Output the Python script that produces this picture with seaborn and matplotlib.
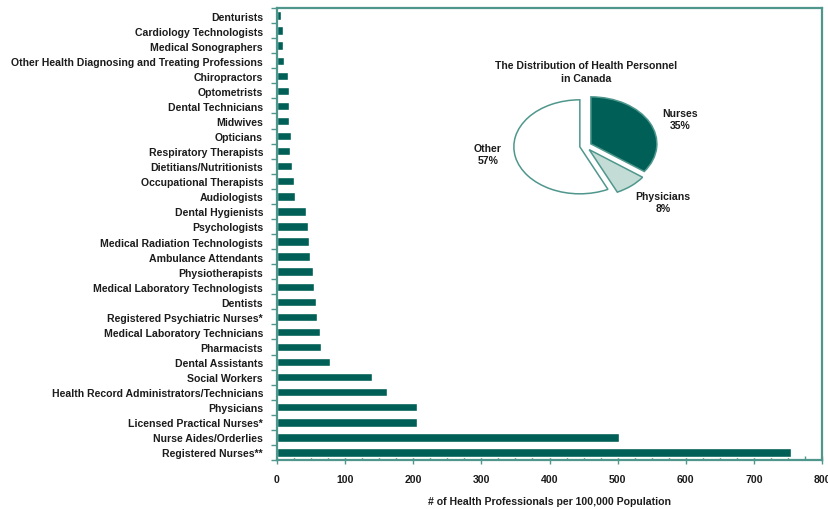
import matplotlib
matplotlib.use("Agg")
import matplotlib.pyplot as plt
import numpy as np
import pandas as pd
import seaborn as sns
from matplotlib.ticker import MultipleLocator, FixedLocator

# Health professionals per 100,000 population, top to bottom
professions = [
    "Denturists",
    "Cardiology Technologists",
    "Medical Sonographers",
    "Other Health Diagnosing and Treating Professions",
    "Chiropractors",
    "Optometrists",
    "Dental Technicians",
    "Midwives",
    "Opticians",
    "Respiratory Therapists",
    "Dietitians/Nutritionists",
    "Occupational Therapists",
    "Audiologists",
    "Dental Hygienists",
    "Psychologists",
    "Medical Radiation Technologists",
    "Ambulance Attendants",
    "Physiotherapists",
    "Medical Laboratory Technologists",
    "Dentists",
    "Registered Psychiatric Nurses*",
    "Medical Laboratory Technicians",
    "Pharmacists",
    "Dental Assistants",
    "Social Workers",
    "Health Record Administrators/Technicians",
    "Physicians",
    "Licensed Practical Nurses*",
    "Nurse Aides/Orderlies",
    "Registered Nurses**",
]
rates = [6, 9, 9, 11, 16, 17, 17, 17, 20, 19,
         22, 25, 27, 42, 45, 47, 49, 53, 54, 57,
         59, 63, 65, 78, 139, 162, 205, 206, 502, 755]

# Share of health personnel in Canada
pie_labels = ["Nurses", "Physicians", "Other"]
pie_shares = [35, 8, 57]
pie_text = ["Nurses\n35%", "Physicians\n8%", "Other\n57%"]

BAR = "#005f56"
SPINE = "#4f978d"
LIGHT = "#c3dcd6"
TEXT = "#1c1c1c"
FS = 7.6

W, H = 829, 510

sns.set_theme(style="white")
plt.rcParams["font.family"] = ["Liberation Sans", "DejaVu Sans"]
plt.rcParams["font.weight"] = "bold"
plt.rcParams["text.color"] = TEXT

fig = plt.figure(figsize=(W / 100, H / 100), dpi=100)
fig.patch.set_facecolor("white")

ax = fig.add_axes([277 / W, 1 - 461 / H, (822 - 277) / W, (461 - 9) / H])
df = pd.DataFrame({"profession": professions, "rate": rates})
sns.barplot(data=df, x="rate", y="profession", orient="h", color=BAR,
            saturation=1, width=0.56, ax=ax)

ax.set_xlim(0, 800)
ax.set_ylim(len(professions) - 0.5, -0.5)
ax.set_ylabel("")
ax.set_xlabel("# of Health Professionals per 100,000 Population",
              fontsize=FS, fontweight="bold", color=TEXT, labelpad=9)

for side in ["left", "bottom", "top", "right"]:
    ax.spines[side].set_visible(True)
    ax.spines[side].set_color(SPINE)
    ax.spines[side].set_linewidth(1.6)

ax.xaxis.set_major_locator(MultipleLocator(100))
ax.xaxis.set_minor_locator(MultipleLocator(25))
ax.yaxis.set_minor_locator(FixedLocator(np.arange(-0.5, len(professions), 1.0)))

ax.tick_params(axis="y", which="major", left=False, length=0, pad=10,
               labelsize=FS, labelcolor=TEXT)
ax.tick_params(axis="y", which="minor", left=True, length=4, width=1,
               direction="out", color=SPINE)
ax.tick_params(axis="x", which="major", bottom=True, length=6, width=1,
               direction="inout", color=SPINE, pad=7, labelsize=FS,
               labelcolor=TEXT)
ax.tick_params(axis="x", which="minor", bottom=True, length=3, width=1,
               direction="in", color=SPINE)
for lab in ax.get_yticklabels() + ax.get_xticklabels():
    lab.set_fontweight("bold")

# Inset pie: distribution of health personnel
cx, cy, rx, ry = 585, 147, 66, 47
half_w, half_h = 80, 57
pax = fig.add_axes([(cx - half_w) / W, 1 - (cy + half_h) / H,
                    2 * half_w / W, 2 * half_h / H])
pax.pie(pie_shares, colors=[BAR, LIGHT, "white"], startangle=90,
        counterclock=False, explode=[0.1, 0.1, 0.08],
        wedgeprops=dict(edgecolor=SPINE, linewidth=1.1))
pax.set_aspect("auto")
pax.set_xlim(-half_w / rx, half_w / rx)
pax.set_ylim(-half_h / ry, half_h / ry)
pax.axis("off")

fig.text(586 / W, 1 - 66 / H, "The Distribution of Health Personnel",
         ha="center", va="center", fontsize=FS, fontweight="bold")
fig.text(586 / W, 1 - 79 / H, "in Canada",
         ha="center", va="center", fontsize=FS, fontweight="bold")

label_pos = [(680, 120), (663, 203), (488, 155)]
for (px, py), txt in zip(label_pos, pie_text):
    fig.text(px / W, 1 - py / H, txt, ha="center", va="center",
             fontsize=FS, fontweight="bold", linespacing=1.3)

fig.savefig("out.png", dpi=100)
